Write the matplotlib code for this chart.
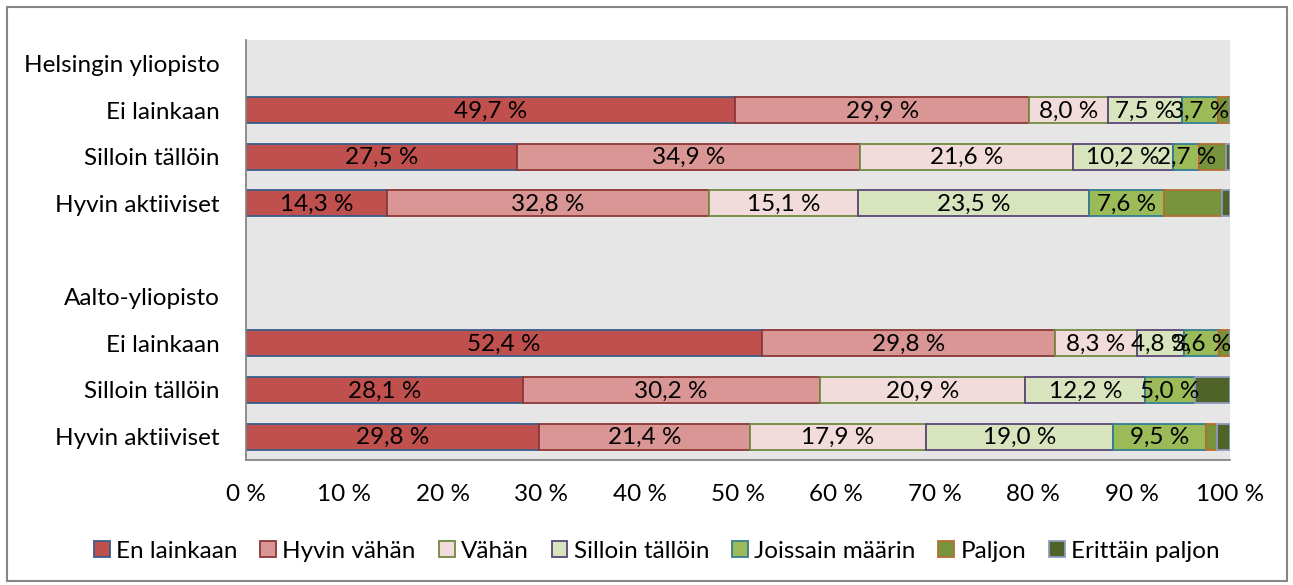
import matplotlib.pyplot as plt
from matplotlib.patches import Rectangle

# rows from top to bottom; empty strings / headers carry no bars
row_labels = ["Helsingin yliopisto", "Ei lainkaan", "Silloin tällöin", "Hyvin aktiiviset", "",
              "Aalto-yliopisto", "Ei lainkaan", "Silloin tällöin", "Hyvin aktiiviset"]
bar_rows = [1, 2, 3, 6, 7, 8]

series = ["En lainkaan", "Hyvin vähän", "Vähän", "Silloin tällöin",
          "Joissain määrin", "Paljon", "Erittäin paljon"]
en_lainkaan     = [49.7, 27.5, 14.3, 52.4, 28.1, 29.8]
hyvin_vahan     = [29.9, 34.9, 32.8, 29.8, 30.2, 21.4]
vahan           = [8.0, 21.6, 15.1, 8.3, 20.9, 17.9]
silloin_talloin = [7.5, 10.2, 23.5, 4.8, 12.2, 19.0]
joissain        = [3.7, 2.7, 7.6, 3.6, 5.0, 9.5]
paljon          = [1.2, 2.7, 5.9, 1.1, 0.0, 1.1]
erittain        = [0.0, 0.4, 0.8, 0.0, 3.6, 1.3]
values = [en_lainkaan, hyvin_vahan, vahan, silloin_talloin, joissain, paljon, erittain]
labelled = [True, True, True, True, True, False, False]

fills = ["#C0504D", "#D99694", "#F2DCDB", "#D7E4BD", "#9BBB59", "#77933C", "#4F6228"]
edges = ["#385D8A", "#8C3836", "#71893F", "#5C4776", "#357D91", "#B66D31", "#8E9CBF"]

FS = 17.5
plt.rcParams["font.family"] = ["Lato", "DejaVu Sans"]

fig = plt.figure(figsize=(12.93, 5.85), dpi=100)
fig.patches.append(Rectangle((7 / 1293, 4 / 585), 1280 / 1293, 574 / 585, transform=fig.transFigure,
                             fill=False, edgecolor="#868686", linewidth=1.5))
ax = fig.add_axes([246 / 1293, 1 - 460 / 585, (1230 - 246) / 1293, 420 / 585])
ax.set_facecolor("#E6E6E6")

left = [0.0] * len(bar_rows)
for name, vals, fc, ec, lab in zip(series, values, fills, edges, labelled):
    ax.barh(bar_rows, vals, left=left, height=0.56, color=fc, edgecolor=ec, linewidth=1.3, label=name)
    if lab:
        for y, l, v in zip(bar_rows, left, vals):
            ax.text(l + v / 2, y + 0.02, f"{v:.1f} %".replace(".", ","), ha="center", va="center",
                    fontsize=FS, color="black")
    left = [a + b for a, b in zip(left, vals)]

ax.set_xlim(0, 100)
ax.set_ylim(8.5, -0.5)
ax.set_yticks(range(len(row_labels)))
ax.set_yticklabels(row_labels, fontsize=FS)
ax.set_xticks(range(0, 101, 10))
ax.set_xticklabels([f"{t} %" for t in range(0, 101, 10)], fontsize=FS)
ax.tick_params(axis="y", length=0, pad=19)
ax.tick_params(axis="x", length=0, pad=17)
for s in ("top", "right"):
    ax.spines[s].set_visible(False)
for s in ("left", "bottom"):
    ax.spines[s].set_color("#868686")
    ax.spines[s].set_linewidth(1.3)

fig.legend(loc="center", bbox_to_anchor=(0.508, 1 - 551 / 585), ncol=7, frameon=False,
           fontsize=FS, handlelength=0.65, handleheight=0.65, handletextpad=0.25,
           columnspacing=0.95)

fig.savefig("out.png", dpi=100)
